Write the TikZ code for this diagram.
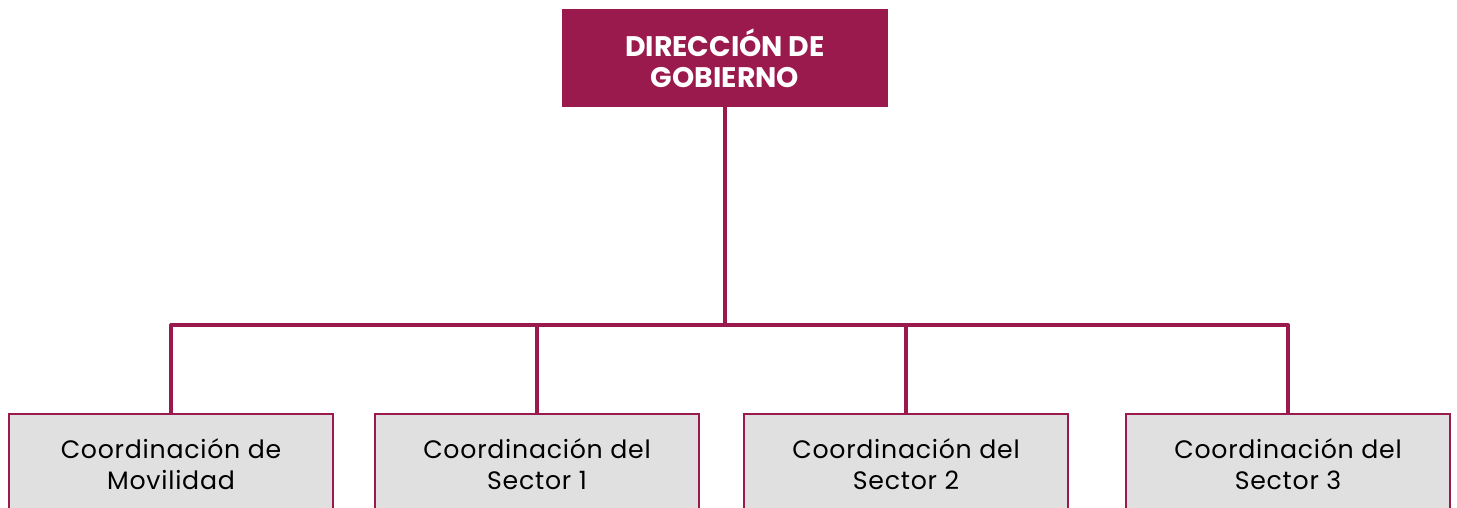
\documentclass[tikz,border=0pt]{standalone}
\usepackage{fontspec}
\setmainfont{Poppins}
\definecolor{guinda}{HTML}{9B1A4D}
\definecolor{boxgray}{HTML}{E0E0E0}
\begin{document}
\begin{tikzpicture}[x=1pt,y=1pt,
  topbox/.style={rectangle, fill=guinda, draw=none, minimum width=326pt, minimum height=98pt,
    align=center, text=white, font=\fontsize{28.3}{31}\selectfont\bfseries},
  subbox/.style={rectangle, fill=boxgray, draw=guinda, line width=1.6pt, minimum width=324pt,
    minimum height=100pt, align=center, text=black,
    font=\fontsize{25.2}{31}\selectfont\addfontfeature{LetterSpace=3}},
  conn/.style={draw=guinda, line width=4pt}]
\useasboundingbox (0,0) rectangle (1457,508);
\clip (0,0) rectangle (1457,508);
\fill[white] (0,0) rectangle (1457,508);
\node[topbox] (dir) at (725,450) {DIRECCIÓN DE\\GOBIERNO};
\node[subbox, anchor=north] (c1) at (171,95) {Coordinación de\\Movilidad};
\node[subbox, anchor=north] (c2) at (537,95) {Coordinación del\\Sector 1};
\node[subbox, anchor=north] (c3) at (906,95) {Coordinación del\\Sector 2};
\node[subbox, anchor=north] (c4) at (1288,95) {Coordinación del\\Sector 3};
\coordinate (bus) at (725,183);
\draw[conn] (dir.south) -- (bus);
\draw[conn, line join=round] (c1.north) -- (c1.north |- bus) -- (c4.north |- bus) -- (c4.north);
\draw[conn] (c2.north |- bus) -- (c2.north);
\draw[conn] (c3.north |- bus) -- (c3.north);
\end{tikzpicture}
\end{document}
